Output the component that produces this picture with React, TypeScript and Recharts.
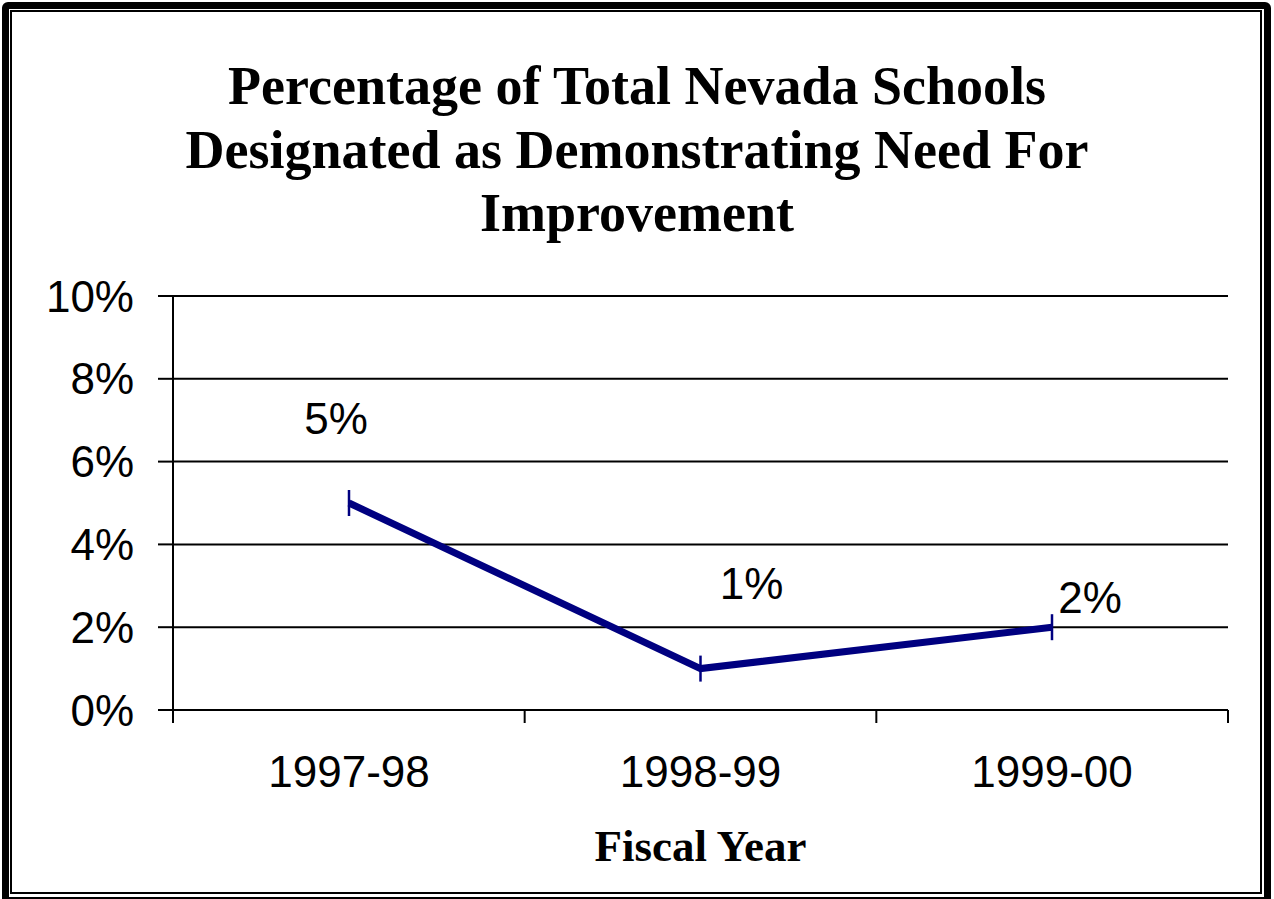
import {
    LineChart,
    Line,
    XAxis,
    YAxis,
    CartesianGrid,
    LabelList,
} from 'recharts';

const years = ['1997-98', '1998-99', '1999-00'];
const percentages = [5, 1, 2];
const yTicks = [0, 2, 4, 6, 8, 10];
const boundaryTicks = [0, 1, 2, 3];

const titleLines = [
    'Percentage of Total Nevada Schools',
    'Designated as Demonstrating Need For',
    'Improvement',
];

// where each value label sits relative to its point
const labelShift = [
    { dx: -13, dy: -85 },
    { dx: 51, dy: -85 },
    { dx: 38, dy: -30 },
];

const NAVY = '#000080';
const SANS = '"Liberation Sans", Arial, sans-serif';
const SERIF = '"Liberation Serif", "Times New Roman", serif';

// slot = category index centre, used by the boundary-tick axis
const data = years.map((year, i) => ({ year, slot: i + 0.5, pct: percentages[i] }));

function DashMarker(props: any) {
    const { cx, cy } = props;
    if (cx == null || cy == null) return null;
    return (
        <line x1={cx} y1={cy - 13} x2={cx} y2={cy + 13} stroke={NAVY} strokeWidth={2.5} />
    );
}

function NoText() {
    return <g />;
}

function ValueLabel(props: any) {
    const { x, y, index, value } = props;
    const s = labelShift[index] || { dx: 0, dy: -30 };
    return (
        <text
            x={x + s.dx}
            y={y + s.dy}
            textAnchor="middle"
            dominantBaseline="central"
            fontFamily={SANS}
            fontSize={44}
            fill="#000"
        >
            {value}%
        </text>
    );
}

export default function App() {
    return (
        <div
            style={{
                position: 'absolute',
                left: 0,
                top: 0,
                width: 1274,
                height: 899,
                background: '#fff',
                overflow: 'hidden',
            }}
        >
            <div
                style={{
                    position: 'absolute',
                    left: 2,
                    top: 2,
                    width: 1269,
                    height: 902,
                    border: '7px solid #000',
                    borderRadius: 6,
                    boxSizing: 'border-box',
                }}
            />
            <div
                style={{
                    position: 'absolute',
                    left: 10,
                    top: 10,
                    width: 1252,
                    height: 884,
                    border: '2px solid #000',
                    boxSizing: 'border-box',
                }}
            />
            <div
                style={{
                    position: 'absolute',
                    left: 0,
                    top: 55,
                    width: 1274,
                    textAlign: 'center',
                    fontFamily: SERIF,
                    fontWeight: 'bold',
                    fontSize: 54,
                    lineHeight: '63.5px',
                }}
            >
                {titleLines.map((t) => (
                    <div key={t}>{t}</div>
                ))}
            </div>
            <div style={{ position: 'absolute', left: 0, top: 0 }}>
                <LineChart
                    width={1274}
                    height={899}
                    data={data}
                    margin={{ top: 296, right: 46, bottom: 38, left: 53 }}
                >
                    <CartesianGrid
                        vertical={false}
                        xAxisId="bCat"
                        stroke="#000"
                        strokeWidth={2}
                    />
                    <XAxis
                        xAxisId="aEdges"
                        type="number"
                        dataKey="slot"
                        domain={[0, 3]}
                        ticks={boundaryTicks}
                        interval={0}
                        tick={<NoText />}
                        tickSize={13}
                        height={1}
                        axisLine={{ stroke: '#000', strokeWidth: 2 }}
                        tickLine={{ stroke: '#000', strokeWidth: 2 }}
                        allowDataOverflow
                    />
                    <XAxis
                        xAxisId="bCat"
                        dataKey="year"
                        height={150}
                        padding={{ left: 176, right: 176 }}
                        axisLine={false}
                        tickLine={false}
                        tickMargin={39}
                        tick={{ fontFamily: SANS, fontSize: 44, fill: '#000' }}
                        label={{
                            value: 'Fiscal Year',
                            position: 'insideBottom',
                            offset: 0,
                            style: {
                                fontFamily: SERIF,
                                fontWeight: 'bold',
                                fontSize: 45,
                                fill: '#000',
                            },
                        }}
                    />
                    <YAxis
                        domain={[0, 10]}
                        ticks={yTicks}
                        width={120}
                        tickFormatter={(v) => `${v}%`}
                        tickSize={15}
                        tickMargin={24}
                        axisLine={{ stroke: '#000', strokeWidth: 2 }}
                        tickLine={{ stroke: '#000', strokeWidth: 2 }}
                        tick={{ fontFamily: SANS, fontSize: 44, fill: '#000' }}
                    />
                    <Line
                        xAxisId="bCat"
                        dataKey="pct"
                        stroke={NAVY}
                        strokeWidth={7}
                        dot={<DashMarker />}
                        activeDot={false}
                        isAnimationActive={false}
                    >
                        <LabelList dataKey="pct" content={<ValueLabel />} />
                    </Line>
                </LineChart>
            </div>
        </div>
    );
}
